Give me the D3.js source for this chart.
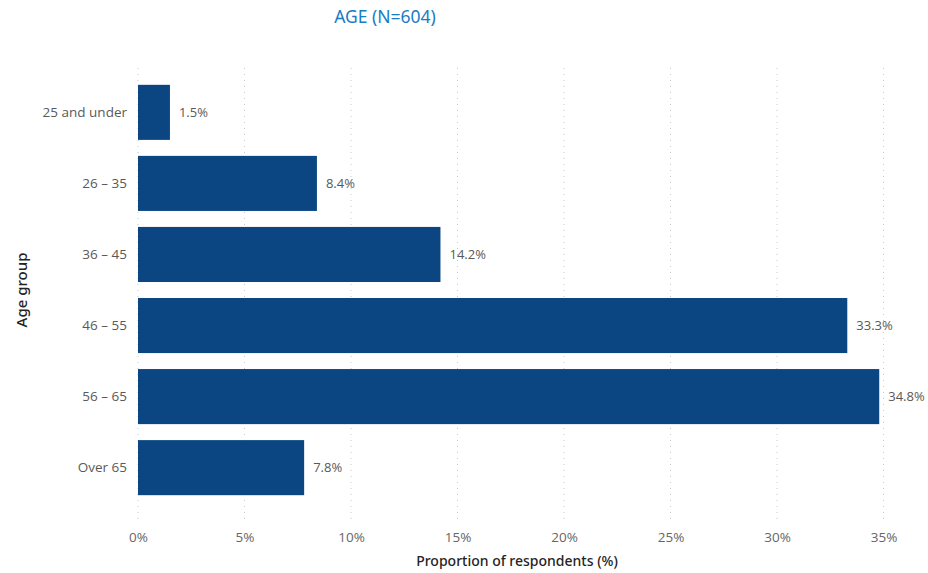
<!DOCTYPE html>
<html><head><meta charset="utf-8">
<script src="https://cdn.jsdelivr.net/npm/d3@7"></script>
<style>body{margin:0;background:#fff;}svg{display:block;}</style>
</head><body>
<script>
const categories = ["25 and under","26 – 35","36 – 45","46 – 55","56 – 65","Over 65"];
const values = [1.5, 8.4, 14.2, 33.3, 34.8, 7.8];
const tickValues = [0,5,10,15,20,25,30,35];
const title = "AGE (N=604)";
const xTitle = "Proportion of respondents (%)";
const yTitle = "Age group";

const W = 928, H = 573;
const svg = d3.select("body").append("svg").attr("width", W).attr("height", H);
const x = d3.scaleLinear().domain([0,35]).range([138, 883.5]);
const y = d3.scaleBand().domain(categories).range([77, 503]).paddingInner(0.225).paddingOuter(0.11);

// grid
svg.append("g").selectAll("line").data(tickValues).join("line")
  .attr("x1", d=>x(d)).attr("x2", d=>x(d)).attr("y1", 68).attr("y2", 523)
  .attr("stroke", "#c8c8c8").attr("stroke-width", 1).attr("stroke-dasharray", "1,5");

// bars
svg.append("g").selectAll("rect").data(values).join("rect")
  .attr("x", x(0)).attr("y", (d,i)=>y(categories[i]))
  .attr("width", d=>x(d)-x(0)).attr("height", y.bandwidth())
  .attr("fill", "#0b4682");

// value labels
svg.append("g").selectAll("text").data(values).join("text")
  .attr("x", d=>x(d)+9).attr("y", (d,i)=>y(categories[i])+y.bandwidth()/2)
  .attr("dy", "0.35em").attr("fill", "#595959")
  .style("font", "13px 'Open Sans', sans-serif")
  .text(d=>d.toFixed(1)+"%");

// x axis
const xa = svg.append("g").attr("transform", "translate(0,532)")
  .call(d3.axisBottom(x).tickValues(tickValues).tickFormat(d=>d+"%").tickSize(0).tickPadding(0));
xa.select(".domain").remove();
xa.selectAll("text").attr("fill", "#666").attr("dy", "0.71em").style("font", "13.5px 'Open Sans', sans-serif");

// y axis
const ya = svg.append("g").attr("transform", "translate(127,0)")
  .call(d3.axisLeft(y).tickSize(0).tickPadding(0));
ya.select(".domain").remove();
ya.selectAll("text").attr("fill", "#595959").style("font", "13.5px 'Open Sans', sans-serif");

// titles
svg.append("text").attr("x", 385).attr("y", 23).attr("text-anchor", "middle")
  .attr("fill", "#1a7bc4").style("font", "400 17.5px 'Noto Sans', sans-serif").text(title);
svg.append("text").attr("x", 517).attr("y", 566).attr("text-anchor", "middle")
  .attr("fill", "#252423").style("font", "500 14px 'Noto Sans', sans-serif").text(xTitle);
svg.append("text").attr("transform", "translate(27,290) rotate(-90)").attr("text-anchor", "middle")
  .attr("fill", "#252423").style("font", "500 15px 'Noto Sans', sans-serif").text(yTitle);
</script>
</body></html>
